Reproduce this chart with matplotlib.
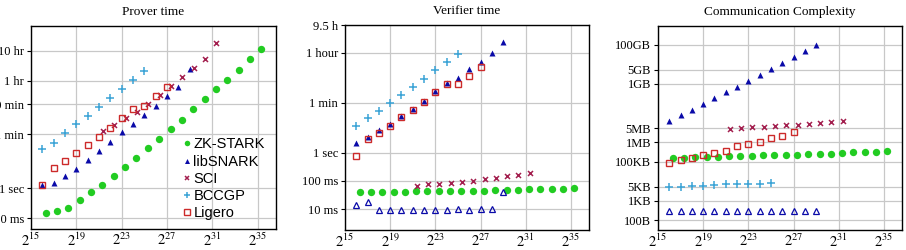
import numpy as np
import matplotlib
matplotlib.use("Agg")
import matplotlib.pyplot as plt

plt.rcParams['font.family'] = ['Liberation Serif', 'DejaVu Serif']
plt.rcParams['mathtext.fontset'] = 'stix'

# x positions as log2 exponents
stark_exp = [16.3 + k for k in range(20)]
n16_29 = list(range(16, 30))
n16_25 = list(range(16, 26))
n16_27 = list(range(16, 28))
sci_exp = [21.35 + k for k in range(11)]

# prover time (seconds)
prover_stark = [0.15, 0.175, 0.215, 0.39, 0.75, 1.23, 2.45, 5.0, 10.3, 21, 43, 90,
                175, 430, 925, 1900, 3980, 8580, 19000, 41900]
prover_snark = [1.29, 1.47, 2.5, 4.4, 8.4, 16.7, 35, 72, 136, 271, 541, 1108, 2210, 9030]
prover_sci = [79, 126, 210, 333, 631, 1196, 2388, 4760, 9500, 19450, 66400]
prover_bccgp = [19, 32, 65, 129, 251, 501, 950, 1897, 3980, 7740]
prover_ligero = [1.29, 4.6, 7.7, 14.7, 26.4, 50, 100, 210, 419, 527, 1108, 2270]

# verifier time (seconds)
verif_stark = [0.0394, 0.0394, 0.0394, 0.0416, 0.0416, 0.0428, 0.0428, 0.044, 0.044, 0.044,
               0.044, 0.045, 0.046, 0.0477, 0.049, 0.050, 0.052, 0.053, 0.052, 0.056]
verif_snark = [2.28, 3.6, 6.6, 10.3, 19.3, 35, 66, 151, 291, 464, 947, 1730, 3530, 8710]
verif_snark_online = [0.0135, 0.0178, 0.0095, 0.0095, 0.0095, 0.0095, 0.0095, 0.0095,
                      0.0095, 0.010, 0.0095, 0.010, 0.010, 0.0416]
verif_sci = [0.066, 0.078, 0.076, 0.085, 0.092, 0.1, 0.118, 0.128, 0.151, 0.168, 0.183]
verif_bccgp = [9.2, 16.4, 30.8, 59.4, 115, 221, 428, 848, 1637, 3160]
verif_ligero = [0.74, 3.08, 4.9, 9.2, 17.8, 32.5, 64.5, 143, 276, 276, 532, 1086]

# communication (bytes)
comm_stark = [1.45e5, 1.57e5, 1.64e5, 1.7e5, 1.7e5, 1.92e5, 1.92e5, 1.99e5, 2.07e5, 2.07e5,
              2.15e5, 2.15e5, 2.33e5, 2.43e5, 2.52e5, 2.6e5, 2.95e5, 3.07e5, 3.2e5, 3.45e5]
comm_snark_key = [1.24e7, 2.33e7, 4.55e7, 8.9e7, 1.8e8, 3.5e8, 6.9e8, 1.4e9, 2.7e9,
                  5.5e9, 1.12e10, 2.3e10, 4.44e10, 9.06e10]
comm_snark_proof = [288] * 14
comm_sci = [4.47e6, 5.0e6, 5.65e6, 6.1e6, 6.6e6, 7.16e6, 7.74e6, 8.7e6, 9.8e6, 1.1e7, 1.19e7]
comm_bccgp = [4.7e3, 5.1e3, 5.3e3, 5.75e3, 6.2e3, 6.75e3, 7.0e3, 7.3e3, 7.3e3, 7.9e3]
comm_ligero = [8.7e4, 1.19e5, 1.45e5, 2.07e5, 2.6e5, 3.7e5, 6.2e5, 7.9e5, 1.04e6, 1.54e6,
               2.1e6, 3.26e6]

prover_ticks = [0.1, 1, 60, 600, 3600, 36000]
prover_labels = ['100 ms', '1 sec', '1 min', '10 min', '1 hr', '10 hr']
verif_ticks = [0.01, 0.1, 1, 60, 3600, 34200]
verif_labels = ['10 ms', '100 ms', '1 sec', '1 min', '1 hour', '9.5 h']
comm_ticks = [1e2, 1e3, 5e3, 1e5, 1e6, 5e6, 1e9, 5e9, 1e11]
comm_labels = ['100B', '1KB', '5KB', '100KB', '1MB', '5MB', '1GB', '5GB', '100GB']

x_ticks = [15, 19, 23, 27, 31, 35]

c_green = '#22cc22'
c_blue = '#0a0aa8'
c_sci = '#a3204f'
c_bccgp = '#3aa3d6'
c_ligero = '#cc2a2a'


def p2(e):
    return 2.0 ** np.array(e)


fig = plt.figure(figsize=(9.06, 2.5), dpi=100)
ax1 = fig.add_axes([31 / 906, 21 / 250, 245 / 906, 203 / 250])
ax2 = fig.add_axes([345 / 906, 20 / 250, 244 / 906, 205 / 250])
ax3 = fig.add_axes([658 / 906, 20 / 250, 244 / 906, 204 / 250])

ms_c = 5.3
ms_t = 4.8
ms_s = 5.0
ms_x = 3.6
ms_p = 5.5


def style(ax, title, ticks, labels, ylim):
    ax.set_xscale('log', base=2)
    ax.set_yscale('log')
    ax.set_xlim(2 ** 15, 2 ** 36.6)
    ax.set_ylim(*ylim)
    ax.set_xticks([2.0 ** e for e in x_ticks])
    ax.set_xticklabels(['$2^{%d}$' % e for e in x_ticks], fontsize=10.5)
    ax.set_yticks(ticks)
    ax.set_yticklabels(labels, fontsize=9)
    ax.minorticks_off()
    ax.grid(True, color='#c8c8c8', lw=0.9)
    ax.set_axisbelow(True)
    ax.tick_params(axis='y', direction='out', length=3, width=0.8, pad=2)
    ax.tick_params(axis='x', length=0, pad=2)
    for s in ax.spines.values():
        s.set_linewidth(1.0)
    ax.set_title(title, fontsize=9.5, pad=8)


# prover
ax1.plot(p2(stark_exp), prover_stark, 'o', color=c_green, ms=ms_c, mec='none', label='ZK-STARK')
ax1.plot(p2(n16_29), prover_snark, '^', color=c_blue, ms=ms_t, mec='none', label='libSNARK')
ax1.plot(p2(sci_exp), prover_sci, 'x', color=c_sci, ms=ms_x, mew=1.1, label='SCI')
ax1.plot(p2(n16_25), prover_bccgp, '+', color=c_bccgp, ms=ms_p, mew=1.1, label='BCCGP')
ax1.plot(p2(n16_27), prover_ligero, 's', color=c_ligero, ms=ms_s, mfc='none', mew=1.0, label='Ligero')
style(ax1, 'Prover time', prover_ticks, prover_labels, (0.0435, 2.4e5))
ax1.legend(loc='lower right', bbox_to_anchor=(0.99, 0.0), frameon=False,
           prop={'family': 'Liberation Sans', 'size': 10.5}, handlelength=0.5,
           handletextpad=0.2, labelspacing=0.22, borderaxespad=0.2, markerscale=0.75)

# verifier
ax2.plot(p2(stark_exp), verif_stark, 'o', color=c_green, ms=ms_c, mec='none')
ax2.plot(p2(n16_29), verif_snark, '^', color=c_blue, ms=ms_t, mec='none')
ax2.plot(p2(n16_29), verif_snark_online, '^', color=c_blue, ms=ms_t, mfc='none', mew=0.9)
ax2.plot(p2(sci_exp), verif_sci, 'x', color=c_sci, ms=ms_x, mew=1.1)
ax2.plot(p2(n16_25), verif_bccgp, '+', color=c_bccgp, ms=ms_p, mew=1.1)
ax2.plot(p2(n16_27), verif_ligero, 's', color=c_ligero, ms=ms_s, mfc='none', mew=1.0)
style(ax2, 'Verifier time', verif_ticks, verif_labels, (0.0018, 34200))

# communication
ax3.plot(p2(stark_exp), comm_stark, 'o', color=c_green, ms=ms_c, mec='none')
ax3.plot(p2(n16_29), comm_snark_key, '^', color=c_blue, ms=ms_t, mec='none')
ax3.plot(p2(n16_29), comm_snark_proof, '^', color=c_blue, ms=ms_t, mfc='none', mew=0.9)
ax3.plot(p2(sci_exp), comm_sci, 'x', color=c_sci, ms=ms_x, mew=1.1)
ax3.plot(p2(n16_25), comm_bccgp, '+', color=c_bccgp, ms=ms_p, mew=1.1)
ax3.plot(p2(n16_27), comm_ligero, 's', color=c_ligero, ms=ms_s, mfc='none', mew=1.0)
style(ax3, 'Communication Complexity', comm_ticks, comm_labels, (31, 9e11))

fig.savefig('out.png', dpi=100)
